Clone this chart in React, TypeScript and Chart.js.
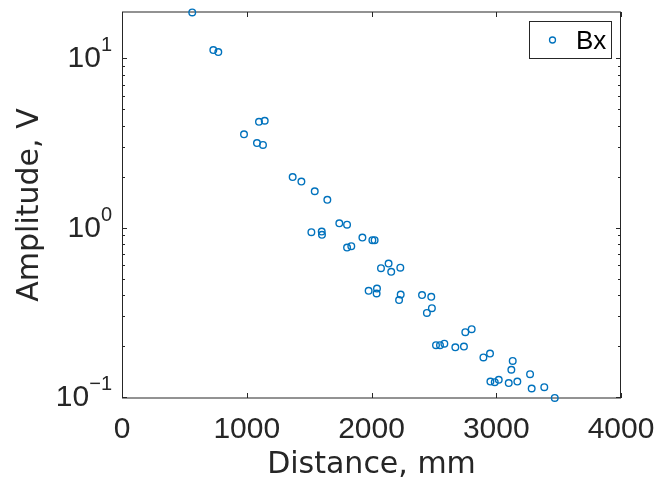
import React, { useEffect, useRef } from 'react';
import { Chart, registerables } from 'chart.js';

Chart.register(...registerables);

// ---- data ----
const distanceMm = [
  563, 732, 772, 978, 1082, 1098, 1130, 1144, 1368, 1438,
  1518, 1545, 1601, 1603, 1646, 1742, 1804, 1804, 1838, 1927,
  1977, 2007, 2025, 2041, 2044, 2076, 2137, 2158, 2221, 2231,
  2234, 2405, 2444, 2479, 2484, 2517, 2549, 2584, 2672, 2741,
  2752, 2803, 2897, 2950, 2953, 2988, 3020, 3100, 3121, 3132,
  3169, 3271, 3284, 3385, 3469,
];
const amplitudeV = [
  18.7, 11.2, 10.9, 3.56, 3.16, 4.22, 3.08, 4.28, 1.99, 1.87,
  0.94, 1.64, 0.947, 0.906, 1.46, 1.06, 1.04, 0.762, 0.777, 0.873,
  0.423, 0.843, 0.843, 0.408, 0.436, 0.576, 0.613, 0.548, 0.373, 0.58,
  0.402, 0.399, 0.313, 0.39, 0.334, 0.202, 0.202, 0.206, 0.196, 0.198,
  0.241, 0.251, 0.171, 0.18, 0.123, 0.122, 0.126, 0.1206, 0.1445, 0.163,
  0.123, 0.136, 0.112, 0.114, 0.0985,
];
const seriesName = 'Bx';
const xTickValues = [0, 1000, 2000, 3000, 4000];
const xRange = [0, 4000];
const yRange = [0.0984, 18.8];
const yDecadeValues = [0.1, 1, 10];
const yDecadeExponents = ['\u22121', '0', '1'];
const xTitle = 'Distance, mm';
const yTitle = 'Amplitude, V';

const AX = '#262626';
const BLUE = '#0072BD';
const TICK_FONT = '"Liberation Sans", Arial, sans-serif';
const TITLE_FONT = '"DejaVu Sans", sans-serif';

export default function App() {
  const ref = useRef<HTMLCanvasElement | null>(null);

  useEffect(() => {
    document.body.style.margin = '0';
    const canvas = ref.current;
    if (!canvas) return;
    const points = distanceMm.map((x, i) => ({ x, y: amplitudeV[i] }));

    const axesPlugin = {
      id: 'matlabAxes',
      beforeDatasetsDraw(chart: any) {
        const { ctx, chartArea } = chart;
        const { left, right, top, bottom } = chartArea;
        const xs = chart.scales.x;
        const ys = chart.scales.y;
        ctx.save();
        ctx.strokeStyle = AX;
        ctx.lineWidth = 1;
        // box
        ctx.strokeRect(Math.round(left) + 0.5, Math.round(top), Math.round(right - left) - 1, Math.round(bottom - top));
        // x ticks (top & bottom, inward)
        ctx.beginPath();
        for (const v of xTickValues) {
          const px = Math.round(xs.getPixelForValue(v)) + 0.5;
          ctx.moveTo(px, bottom);
          ctx.lineTo(px, bottom - 5);
          ctx.moveTo(px, top);
          ctx.lineTo(px, top + 5);
        }
        // y ticks (log: major + minor), left & right, inward
        for (let e = -2; e <= 2; e++) {
          for (let m = 1; m <= 9; m++) {
            const v = m * Math.pow(10, e);
            if (v < yRange[0] || v > yRange[1]) continue;
            const py = Math.round(ys.getPixelForValue(v)) + 0.5;
            const len = m === 1 ? 5 : 3;
            ctx.moveTo(left, py);
            ctx.lineTo(left + len, py);
            ctx.moveTo(right, py);
            ctx.lineTo(right - len, py);
          }
        }
        ctx.stroke();
        // y tick labels with superscripts
        ctx.fillStyle = AX;
        ctx.textBaseline = 'alphabetic';
        yDecadeValues.forEach((v, i) => {
          const py = ys.getPixelForValue(v);
          const rightEdge = left - 10;
          ctx.font = `20px ${TICK_FONT}`;
          const sup = yDecadeExponents[i];
          const supW = ctx.measureText(sup).width;
          ctx.textAlign = 'left';
          ctx.fillText(sup, rightEdge - supW, py - 7);
          ctx.font = `30px ${TICK_FONT}`;
          ctx.textAlign = 'right';
          ctx.fillText('10', rightEdge - supW, py + 9);
        });
        ctx.restore();
      },
      afterDraw(chart: any) {
        const { ctx } = chart;
        ctx.save();
        // legend box
        ctx.fillStyle = '#ffffff';
        ctx.fillRect(529.5, 21.5, 82, 37);
        ctx.strokeStyle = AX;
        ctx.lineWidth = 1;
        ctx.strokeRect(529.5, 21.5, 82, 37);
        ctx.beginPath();
        ctx.arc(552.5, 40, 3, 0, Math.PI * 2);
        ctx.strokeStyle = BLUE;
        ctx.lineWidth = 1.3;
        ctx.stroke();
        ctx.fillStyle = '#000000';
        ctx.font = `26px ${TICK_FONT}`;
        ctx.textAlign = 'left';
        ctx.textBaseline = 'alphabetic';
        ctx.fillText(seriesName, 576, 49);
        ctx.restore();
      },
    };

    const chart = new Chart(canvas, {
      type: 'scatter',
      data: {
        datasets: [
          {
            label: seriesName,
            data: points,
            pointStyle: 'circle',
            pointRadius: 3.3,
            pointBorderWidth: 1.4,
            borderColor: BLUE,
            pointBorderColor: BLUE,
            backgroundColor: 'rgba(0,0,0,0)',
            pointBackgroundColor: 'rgba(0,0,0,0)',
            clip: false,
          } as any,
        ],
      },
      plugins: [axesPlugin],
      options: {
        animation: false,
        responsive: false,
        devicePixelRatio: 1,
        layout: { padding: { top: 12, right: 38, left: 0, bottom: 0 } },
        plugins: { legend: { display: false }, tooltip: { enabled: false } },
        scales: {
          x: {
            type: 'linear',
            position: 'bottom',
            min: xRange[0],
            max: xRange[1],
            afterFit: (s: any) => {
              s.height = 82;
              s.paddingLeft = 0;
              s.paddingRight = 0;
            },
            afterBuildTicks: (s: any) => { s.ticks = xTickValues.map((v) => ({ value: v })); },
            grid: { display: false, drawTicks: false },
            border: { display: false },
            ticks: {
              color: AX,
              font: { family: TICK_FONT, size: 30 },
              padding: 14,
              maxRotation: 0,
              autoSkip: false,
              callback: (v: any) => String(v),
            },
            title: {
              display: true,
              text: xTitle,
              color: AX,
              font: { family: TITLE_FONT, size: 30, lineHeight: 1 },
              padding: { top: 0, bottom: 0 },
            },
          },
          y: {
            type: 'logarithmic',
            min: yRange[0],
            max: yRange[1],
            afterFit: (s: any) => {
              s.width = 122;
              s.paddingTop = 0;
              s.paddingBottom = 0;
            },
            grid: { display: false, drawTicks: false },
            border: { display: false },
            ticks: { display: false },
            title: {
              display: true,
              text: yTitle,
              color: AX,
              font: { family: TITLE_FONT, size: 30, lineHeight: 1 },
              padding: { top: 15, bottom: 0 },
            },
          },
        },
      } as any,
    });
    return () => chart.destroy();
  }, []);

  return (
    <div style={{ width: 659, height: 480, background: '#fff' }}>
      <canvas ref={ref} width={659} height={480} style={{ display: 'block' }} />
    </div>
  );
}
